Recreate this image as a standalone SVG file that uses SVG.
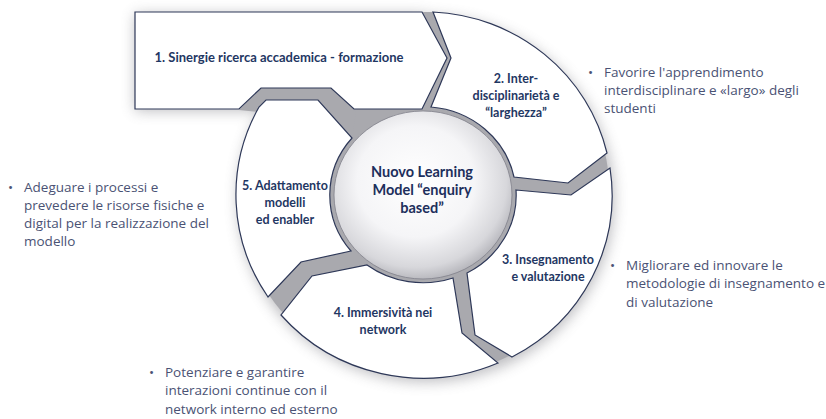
<svg xmlns="http://www.w3.org/2000/svg" width="826" height="419" viewBox="0 0 826 419">
<style>
.seg{fill:#ffffff;stroke:#2e3858;stroke-width:1.2;stroke-linejoin:miter}
.lbl{font-family:Lato,"Liberation Sans",sans-serif;font-weight:700;font-size:12.5px;fill:#1f3763;text-anchor:middle}
.ctr{font-family:Lato,"Liberation Sans",sans-serif;font-weight:700;font-size:14.5px;fill:#1d2f5c;text-anchor:middle}
.bul{font-family:"Open Sans","Liberation Sans",sans-serif;font-size:13.5px;fill:#4a5274}
.gap{fill:#a9a9ae}
</style>
<defs>
<filter id="sh" x="-20%" y="-20%" width="140%" height="140%"><feGaussianBlur stdDeviation="7"/></filter>
<radialGradient id="disk" cx="0.46" cy="0.42" r="0.6">
<stop offset="0" stop-color="#ffffff"/>
<stop offset="0.55" stop-color="#f5f5f7"/>
<stop offset="0.85" stop-color="#d7d7db"/>
<stop offset="1" stop-color="#b2b2b8"/>
</radialGradient>
</defs>
<rect width="826" height="419" fill="#ffffff"/>
<g id="shadow" filter="url(#sh)" opacity="0.45" fill="#6e6e76">
<ellipse cx="426" cy="199" rx="188" ry="183"/>
<polygon points="135,14 424,14 449,60 424,111 135,111"/>
</g>
<g id="base">
<ellipse class="gap" cx="424" cy="195" rx="186" ry="181"/>
<polygon class="gap" points="239,110 261,88 331,88 356,112 352,140 259,112"/>
<polygon class="gap" points="422,12 433,12 451,58 431,107 422,109 447,58"/>
</g>
<g id="connectors"></g>
<g id="center">
<ellipse cx="423" cy="195" rx="89" ry="84" fill="url(#disk)" stroke="#80808a" stroke-width="0.8"/>
<text class="ctr" x="422" y="177">Nuovo Learning</text>
<text class="ctr" x="422" y="195">Model “enquiry</text>
<text class="ctr" x="422" y="213">based”</text>
</g>
<g id="node-1">
<path class="seg" d="M135,12 L422,12 L447,58 L422,109 L354,109 L331,88 L261,88 L239,109 L135,109 Z"/>
<text class="lbl" x="279" y="61.5" style="font-size:13px">1. Sinergie ricerca accademica - formazione</text>
</g>
<g id="node-2">
<path class="seg" d="M433,12 L451,58 L431,107 A93,88 0 0 1 514,177 L568,183 L607,153 A188,183 0 0 0 433,12 Z"/>
<text class="lbl" x="516" y="82.5">2. Inter-</text>
<text class="lbl" x="516" y="99.5">disciplinarietà e</text>
<text class="lbl" x="516" y="116.5">“larghezza”</text>
</g>
<g id="node-3">
<path class="seg" d="M516,190 L571,195 L610,168 A188,183 0 0 1 512,357 L475,335 L467,273 A93,88 0 0 0 516,190 Z"/>
<text class="lbl" x="548" y="263.5">3. Insegnamento</text>
<text class="lbl" x="548" y="280.5">e valutazione</text>
</g>
<g id="node-4">
<path class="seg" d="M453,278 L462,333 L498,363 A188,183 0 0 1 281,315 L312,276 L367,265 A93,88 0 0 0 453,278 Z"/>
<text class="lbl" x="383" y="316.5">4. Immersività nei</text>
<text class="lbl" x="383" y="333.5">network</text>
</g>
<g id="node-5">
<path class="seg" d="M351,251 L301,262 L268,297 A188,183 0 0 1 259,107 L266,100 L318,100 L352,138 A93,88 0 0 0 351,251 Z"/>
<text class="lbl" x="285" y="189.5">5. Adattamento</text>
<text class="lbl" x="285" y="206.5">modelli</text>
<text class="lbl" x="285" y="223.5">ed enabler</text>
</g>
<g id="note-2">
<text class="bul" x="588" y="76.5">•</text>
<text class="bul" x="604" y="76.5">Favorire l'apprendimento</text>
<text class="bul" x="604" y="94.5">interdisciplinare e «largo» degli</text>
<text class="bul" x="604" y="112.5">studenti</text>
</g>
<g id="note-5">
<text class="bul" x="8" y="191.5">•</text>
<text class="bul" x="24" y="191.5">Adeguare i processi e</text>
<text class="bul" x="24" y="209.5">prevedere le risorse fisiche e</text>
<text class="bul" x="24" y="227.5">digital per la realizzazione del</text>
<text class="bul" x="24" y="245.5">modello</text>
</g>
<g id="note-3">
<text class="bul" x="610" y="269.5">•</text>
<text class="bul" x="626" y="269.5">Migliorare ed innovare le</text>
<text class="bul" x="626" y="288">metodologie di insegnamento e</text>
<text class="bul" x="626" y="306.5">di valutazione</text>
</g>
<g id="note-4">
<text class="bul" x="149" y="376.5">•</text>
<text class="bul" x="165" y="376.5">Potenziare e garantire</text>
<text class="bul" x="165" y="395">interazioni continue con il</text>
<text class="bul" x="165" y="413.5">network interno ed esterno</text>
</g>
</svg>
